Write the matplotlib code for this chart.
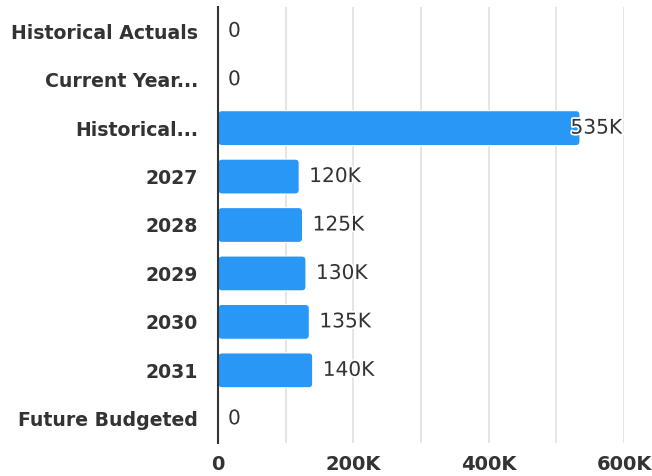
import matplotlib
matplotlib.use("Agg")
import matplotlib.pyplot as plt
import matplotlib.patheffects as pe
from matplotlib.patches import FancyBboxPatch
from matplotlib.ticker import FuncFormatter, MultipleLocator

plt.rcParams['font.family'] = ['DejaVu Sans']

categories = ["Historical Actuals", "Current Year...", "Historical...", "2027",
              "2028", "2029", "2030", "2031", "Future Budgeted"]
values = [0, 0, 535000, 120000, 125000, 130000, 135000, 140000, 0]
value_labels = ["0", "0", "535K", "120K", "125K", "130K", "135K", "140K", "0"]

bar_color = "#2997F6"
text_color = "#333333"

fig = plt.figure(figsize=(6.52, 4.76), dpi=100)
ax = fig.add_axes([218 / 652, 33 / 476, (624 - 218) / 652, 436 / 476])

ypos = list(range(len(categories)))
xmax = 600000
ax.set_xlim(0, xmax)
ax.set_ylim(len(categories) - 0.5, -0.5)

# px -> data scales for rounded corners
bbox = ax.get_window_extent()
sx = xmax / bbox.width
sy = len(categories) / bbox.height
bar_h = 0.72
for y, v in zip(ypos, values):
    if v <= 0:
        continue
    r = 4 * sx
    p = FancyBboxPatch((0, y - bar_h / 2), v, bar_h,
                       boxstyle=f"round,pad=0,rounding_size={r}",
                       mutation_aspect=sy / sx,
                       facecolor=bar_color, edgecolor="white", linewidth=0.8, zorder=3)
    ax.add_patch(p)

halo = [pe.withStroke(linewidth=2.5, foreground="white")]
for y, v, lab in zip(ypos, values, value_labels):
    off = 10 * sx
    if v + off + 55 * sx > xmax:
        ax.text(xmax - 2 * sx, y, lab, ha="right", va="center", fontsize=14.5,
                color=text_color, zorder=4, path_effects=halo)
    else:
        ax.text(v + off, y, lab, ha="left", va="center", fontsize=14.5,
                color=text_color, zorder=4, path_effects=halo)

ax.set_yticks(ypos)
ax.set_yticklabels(categories, fontsize=13.6, fontweight="bold", color=text_color)
ax.tick_params(axis="y", length=0, pad=14.5)

ax.set_xticks([0, 200000, 400000, 600000])
ax.xaxis.set_major_formatter(FuncFormatter(lambda x, _: "0" if x == 0 else f"{int(x / 1000)}K"))
ax.xaxis.set_minor_locator(MultipleLocator(100000))
ax.tick_params(axis="x", which="both", length=0, pad=9, labelsize=14, labelcolor=text_color)
for t in ax.get_xticklabels():
    t.set_fontweight("bold")

ax.grid(True, axis="x", which="both", color="#e3e3e3", linewidth=1.3, zorder=0)
ax.set_axisbelow(True)
for s in ["top", "right", "bottom"]:
    ax.spines[s].set_visible(False)
ax.spines["left"].set_color("#333333")
ax.spines["left"].set_linewidth(1.5)
ax.spines["left"].set_zorder(5)

fig.savefig("out.png", dpi=100)
